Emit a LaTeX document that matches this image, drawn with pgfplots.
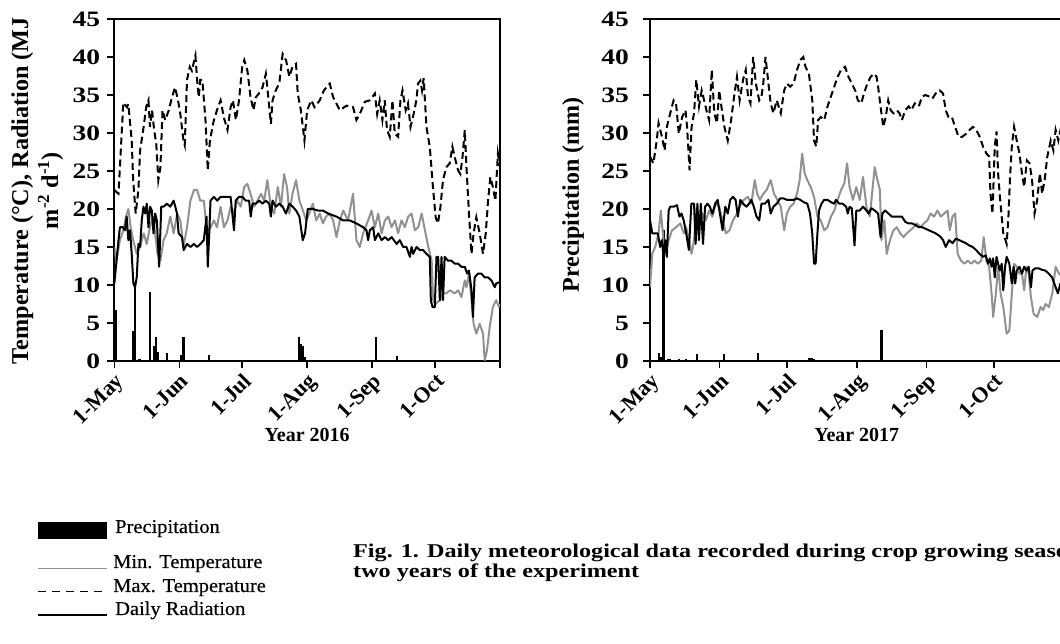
\documentclass[border=0pt]{standalone}
\usepackage{fontspec}
\setmainfont{Liberation Serif}
\newfontfamily\tickfont[FakeStretch=1.25]{Liberation Serif}
\newfontfamily\capfont[FakeStretch=1.24]{Liberation Serif}
\newfontfamily\legfont[FakeStretch=1.05,FakeBold=0.4]{Liberation Serif}
\usepackage{pgfplots}
\pgfplotsset{compat=1.18}
\definecolor{mingray}{RGB}{145,145,145}
\pgfplotsset{
  metbase/.style={
    scale only axis, height=342pt,
    xmin=0, xmax=184, ymin=0, ymax=45,
    ytick={0,5,...,45},
    xtick={0,31,61,92,123,153,184},
    xticklabels={1-May,1-Jun,1-Jul,1-Aug,1-Sep,1-Oct,{}},
    tick align=outside, tick pos=left,
    major tick length=7pt,
    major tick style={black, line width=1.5pt},
    axis line style={black, line width=1.8pt},
    line width=1.8pt,
    /pgf/number format/assume math mode=true,
    xticklabel style={font=\fontsize{22}{22}\selectfont\bfseries, rotate=45, anchor=north east, inner sep=2pt},
    yticklabel style={font=\fontsize{22}{22}\selectfont\tickfont\bfseries},
    every axis x label/.style={at={(rel axis cs:0.5,0)}, anchor=base, yshift=-81pt, font=\fontsize{20}{20}\selectfont\bfseries},
    clip=true,
  },
  prec/.style={ycomb, black, line width=2.2pt, no markers},
  tmin/.style={mingray, line width=2pt, no markers, line join=round},
  tmax/.style={black, line width=2pt, no markers, dash pattern=on 7pt off 4pt},
  rad/.style={black, line width=2pt, no markers, line join=round},
}
\begin{document}
\begin{tikzpicture}[x=1pt,y=1pt]
% ---------------- 2016 ----------------
\begin{axis}[metbase, width=385.7pt, at={(114.3pt,283pt)}, anchor=south west,
  xlabel={Year 2016},
  ylabel={Temperature (°C), Radiation (MJ\\ m\textsuperscript{-2} d\textsuperscript{-1})},
  every axis y label/.style={at={([xshift=-77pt]rel axis cs:0,0.498)}, rotate=90, anchor=center, align=center, font=\fontsize{24.2}{30}\selectfont\bfseries},
  yticklabel style={xshift=-3pt},
]
\addplot[prec] coordinates {(0,7.5)(1,6.7)(9,4)(10,10.2)(12,0.2)(17,9.1)(19,2)(20,3.1)(21,1.2)(25,1)(32,0.8)(33,3.1)(45,0.8)(88,3.1)(89,2.2)(90,2)(91,0.5)(125,3.1)(135,0.7)};
\addplot[tmin] coordinates {(0,15)(1,13.2)(2.7,15.9)(4.3,17.2)(5.6,19)(6.7,20)(7.8,17.6)(9,15.9)(10.7,14.1)(12.3,15)(14,16.8)(15.5,15.4)(17,17.6)(18.4,19)(19.5,16.8)(20.6,14.1)(22,13.2)(23.5,15.9)(25,16.8)(26.7,19)(28.3,16.8)(30,19.4)(31.5,18.5)(33,15)(34.7,17.6)(36.3,21.1)(38,22.5)(39.5,22.5)(41,21.1)(42.7,21.1)(44.3,16.8)(46,17.6)(47.5,18.5)(49,17.6)(50.7,20.3)(52.3,17.6)(54,18.5)(55.5,20.3)(57,19.4)(58.7,21.1)(60.3,20.3)(62,22.9)(63.5,23.3)(65,22)(66.7,20.3)(68.3,21.1)(70,22)(71.5,21.1)(73,23.8)(74.7,20.3)(76.3,19.4)(78,22.9)(79.5,20.3)(81,24.6)(82.4,22.9)(83.5,19.4)(85,22)(86.7,23.8)(88.3,21.1)(90,19.8)(91.5,18.5)(93,19.4)(94.7,20.7)(96.3,18.5)(98,19.4)(99.5,18.1)(101,19)(102.7,19.4)(104.4,18.5)(106,16.3)(107.6,18.5)(109.2,19.8)(111.5,18.5)(113.9,22)(115.5,15.9)(117.1,15)(118.7,16.8)(121.1,18.5)(122.7,19.8)(124.3,17.6)(125.9,19.4)(127.5,16.8)(129.1,18.5)(130.7,19)(132.3,17.6)(133.9,18.5)(135.4,16.8)(137,18.5)(138.6,17.6)(140.2,19)(141.8,19.4)(143.4,17.2)(145,17.6)(146.6,19.4)(148.2,17.2)(149.8,15)(151.4,13.2)(152.1,8)(153.3,7.5)(155.3,8)(156.8,8.9)(158.4,8.9)(160,9.3)(162.4,8.9)(164,9.3)(165.6,8.4)(167.2,10.6)(168,9.7)(169.2,11.5)(170.4,8)(171.4,4.9)(172.7,3.6)(174.3,4.9)(175.9,3.6)(176.7,0.1)(177.8,1.4)(179.1,4.5)(180.6,7.1)(182.2,8)(183.5,7.1)(184,7.5)};
\addplot[tmax] coordinates {(0,22.5)(2,22)(4.3,34)(6,33.4)(6.7,33.8)(8.3,29)(9,23.8)(10.2,19.4)(11.5,22.5)(12.3,27.7)(14,30.8)(15.2,33.4)(16.3,34.3)(17,30.8)(18,33)(19,30.4)(20,28.6)(21,23.8)(22,25.5)(23,33)(24.3,31.7)(26,33)(27.5,34.7)(29,36)(30.4,34.3)(31.5,32.5)(33,29)(33.6,28.4)(34.7,37)(36,38.7)(37,38.2)(38.7,40.2)(39.5,37)(40.3,34.7)(41,37)(42,37)(43.5,31.7)(44.6,25.1)(45.6,29)(47.5,31.7)(49,33)(50.7,34.3)(52.3,32)(54,30.4)(55.5,33.4)(56.6,34.3)(58,31.7)(59.5,34.3)(61,38.7)(62,39.6)(63.5,38.2)(65,34.7)(66.4,33)(67.5,34.7)(69,35.2)(70.7,36)(72.3,37.8)(73,36)(74.7,31.2)(75.5,34.3)(77,35.6)(78.7,36.5)(80.3,40.4)(82,39.5)(83.5,37.4)(85,38.7)(86.7,39.1)(87.5,35.2)(89,33)(90.7,29)(92,33)(94,34.3)(95.5,33.4)(98,34.3)(100,35.6)(102,36.3)(102.8,36.5)(104.4,34.7)(107.6,33)(110.8,33.6)(113.9,33.4)(115.5,31.7)(117.1,32.5)(119.5,34.1)(121.9,34.3)(124.3,35.2)(125.4,32.5)(126.6,34.3)(127.9,31.7)(129,34.3)(130.1,30.4)(131.4,29.5)(132.7,34.3)(133.8,29.9)(135.4,29.5)(136.5,34.3)(137.5,35.6)(139,33)(140.1,33.9)(141.3,30.8)(142.8,32.5)(144.1,34.3)(144.9,36.5)(146,36.9)(146.8,35.6)(147.6,37.2)(148.9,30.8)(150.5,28.2)(152,22.9)(153.3,18.9)(154.4,18.1)(155.6,20.3)(156.8,23.8)(158.4,25.5)(160,26)(161.3,28.2)(162.4,26.8)(164,25.1)(165.1,24.6)(166.1,26.8)(167.2,30.4)(168,25.5)(169.2,19.4)(170.4,14.1)(171.4,16.8)(172.7,18.9)(174.3,16.8)(175.9,14.1)(177.2,16.8)(178.3,21.1)(179.4,24.2)(180.6,22.9)(181.8,21.1)(183,27.3)(184,25.5)};
\addplot[rad] coordinates {(0,10.2)(0.8,12.4)(2,15.9)(2.7,17.6)(4,17.6)(5.1,17.2)(5.9,19)(6.7,15.9)(7.5,17.2)(8.3,14.1)(9.1,10.2)(9.9,9.7)(10.7,11)(11.5,15.4)(12.3,15)(13.1,18.5)(13.9,20.3)(14.7,19.4)(15.5,20.7)(16.3,17.6)(17.1,20.3)(17.9,19.8)(18.7,16.8)(19.5,19.4)(20.3,18.5)(21.4,12.4)(22.4,20.3)(23.5,20.3)(25.1,20.7)(26.7,20.3)(28.3,21.1)(29.1,20.3)(29.9,19.4)(30.7,16.8)(32.3,16.3)(33.1,14.6)(34.7,15.4)(36.3,15)(38,15.4)(39.5,15)(41.1,15.4)(42.7,15.9)(44,19)(44.6,12.4)(45.3,16.8)(45.9,21.1)(47.5,21.6)(49.1,21.1)(50.7,21.6)(52.3,21.6)(54,21.6)(55.5,21.6)(57.1,17.2)(57.9,21.1)(59.5,21.6)(61.1,21.6)(62.7,21.1)(64.3,21.1)(65.1,19)(65.9,20.7)(67.5,20.7)(69.1,21.1)(70.7,20.7)(72.3,21.1)(73.9,20.7)(74.7,19)(75.5,21.1)(77.1,20.3)(78.7,20.7)(80.3,20.3)(81.9,19.4)(83.5,20.7)(85.1,20.3)(86.7,19.8)(88.3,19)(89.9,15.9)(91,16.8)(92.3,20)(94.7,20)(97.1,19.8)(99.5,19.8)(102,19.4)(104,19.2)(106,19)(109.2,18.5)(112.3,18.5)(115.5,18.1)(118.7,17.6)(120.3,17.2)(121.1,15.9)(121.9,17.2)(123.5,17.6)(124.3,15.9)(125.9,16.8)(127.5,15.9)(129.1,16.3)(130.7,15.9)(132.3,16.3)(134.7,15.4)(136.2,15.9)(137.8,15)(139.4,15)(141,13.7)(141.8,15)(142.6,14.1)(144.2,15)(145.7,14.6)(147.3,14.6)(148.9,14.1)(150.5,13.7)(151,8)(151.8,7.1)(152.9,7.1)(153.7,13.7)(154.5,13.7)(155.3,8)(156.1,13.7)(156.8,8)(157.6,13.7)(159.2,13.2)(160.8,13.2)(162.4,12.8)(164,12.8)(165.6,12.4)(167.2,12.4)(168.3,11.5)(169.2,11.9)(170.4,9.3)(171.1,5.8)(171.9,11)(173.5,11.5)(175.1,11.5)(176.7,11)(178.3,11)(179.9,10.6)(181.5,9.7)(182.2,10.2)(184,10.4)};
\end{axis}
% ---------------- 2017 ----------------
\begin{axis}[metbase, width=413.5pt, at={(650pt,283pt)}, anchor=south west,
  xlabel={Year 2017},
  ylabel={Precipitation (mm)},
  every axis y label/.style={at={([xshift=-77pt]rel axis cs:0,0.485)}, rotate=90, anchor=center, font=\fontsize{24}{29}\selectfont\bfseries},
  yticklabel style={xshift=-10pt},
]
\addplot[prec] coordinates {(4,1)(5,0.5)(6,17.2)(8,0.3)(9,0.2)(13,0.2)(16,0.3)(21,0.9)(33,0.9)(48,1.1)(71,0.4)(72,0.4)(73,0.3)(103,4.1)(149,0.1)};
\addplot[tmin] coordinates {(0,9.7)(1,14.1)(2.3,15)(3.8,16.8)(4.8,19.8)(6,15.9)(6.8,14.1)(8.3,15.9)(9.8,17.2)(11.6,17.6)(13.5,18.1)(15,16.8)(16.1,17.6)(17.3,15.9)(18.5,14.1)(19.6,15.9)(20.8,20.3)(21.8,18.5)(23.3,19.4)(24.8,18.5)(26.3,19.8)(27.8,19)(29.3,20.7)(30.8,20.3)(32.3,18.5)(33.8,16.8)(35.4,17.2)(36.9,18.5)(38.7,19.4)(39.9,20.3)(41.7,21.2)(43.6,21.6)(45.1,20.7)(46.6,23.8)(47.7,22)(48.9,21.2)(50.4,22)(51.9,22.5)(53.7,23.8)(55.2,22)(56.7,21.2)(58.2,20.3)(59.7,17.2)(60.9,19.4)(62.4,20.3)(63.9,20.7)(65.4,22)(66.6,23.8)(67.7,27.3)(68.8,24.7)(70,23.8)(71.5,22.9)(73,21.6)(74.5,19)(76,18.5)(77.5,17.2)(79,17.6)(80.5,19)(82,19.8)(83.5,21.2)(85,22.5)(86.5,23.4)(87.7,26)(88.8,22.9)(90.3,21.2)(91.8,22.9)(93.3,21.2)(94.8,24.2)(96.3,20.3)(97.8,19)(98.8,22)(100,25.5)(101.2,23.8)(102.3,22.5)(103,15.9)(104.3,18.5)(105.3,14.1)(106.8,15.9)(108.3,17.2)(109.8,17.6)(111.3,16.8)(112.8,16.3)(114.3,16.8)(115.8,17.2)(117.3,17.6)(118.8,18.1)(120.4,17.6)(121.9,18.1)(123.4,18.5)(124.9,19.4)(126.4,19)(127.9,19.8)(129.4,19)(130.9,19.4)(132.4,19.8)(133.4,17.2)(134.6,19)(135.8,19.4)(136.9,14.1)(138.4,13.2)(139.9,12.8)(141.4,13.2)(142.9,12.8)(144.4,13.2)(145.9,12.8)(147.4,13.2)(148.5,16.3)(149.7,13.2)(150.9,12.4)(152,8.9)(152.7,5.8)(153.9,8.9)(154.9,12.4)(156,8.9)(157.2,7.1)(158.7,3.6)(159.9,4)(161,8.9)(162,12.8)(163.2,12.4)(164.4,11.5)(165.5,11.5)(166.5,9.3)(167.5,12.4)(168.5,11.5)(169.5,8.4)(170.7,6.2)(172.3,5.8)(173.8,7.1)(175,6.7)(176,7.5)(177.5,7.1)(179,8.9)(180.5,12.4)(182,11.5)(184,11)};
\addplot[tmax] coordinates {(0,26.9)(1.5,26)(3,29)(3.8,31.3)(5.3,29.5)(6.5,27.7)(7.5,30.8)(9,32.6)(10.5,34.3)(11.6,33.9)(12.8,29.9)(14.3,32.1)(15.8,33)(16.5,30.8)(17.6,25.1)(18.5,30.8)(19.6,32.6)(20.6,37)(21.8,33.5)(23,35.6)(24.1,34.3)(25.1,33)(26.3,31.7)(27.5,38.3)(28.6,32.6)(29.8,31.3)(30.8,35.6)(32,33)(33.1,30.8)(34.6,29)(36.1,31.7)(37.6,35.2)(38.7,37.4)(39.9,34.3)(41.4,37)(42.6,38.3)(43.6,34.8)(44.7,33.9)(45.9,40)(47.1,36.5)(48.6,34.3)(49.6,34.8)(50.4,36.5)(51.4,40)(52.7,36.5)(53.7,33.9)(54.9,32.6)(56.4,34.3)(58.2,32.6)(59.7,35.6)(60.9,36.5)(62.4,36.1)(63.9,36.5)(65.4,38.3)(66.9,39.6)(68.2,40)(69.2,38.7)(70.7,37.8)(72.2,34.3)(73,29)(74,28.2)(74.8,31.7)(76,32.1)(77.5,31.7)(79,33.5)(80.5,34.8)(82,36.1)(83.5,37.4)(85,38.3)(86.8,38.7)(88.3,37.4)(89.8,36.5)(91.3,35.6)(92.5,34.3)(94,33.9)(95.2,35.2)(96.7,36.5)(98.2,37.4)(99.7,37.8)(100.8,37.4)(101.5,36.1)(102.8,33)(103.8,30.8)(104.9,32.1)(106,34.3)(107.1,33)(108.3,32.6)(109.8,33)(111,32.6)(112.1,31.7)(113.6,33)(115.1,33.5)(116.3,33)(117.8,33.9)(119.6,33.5)(121.1,34.8)(122.6,35)(124.1,34.8)(125.6,34.5)(127.1,35.2)(128.9,35.6)(130.4,35.2)(131.6,33)(132.8,32.1)(134.3,32.1)(135.8,30.8)(137.3,29.5)(138.9,29.5)(140.7,29.9)(142.2,30.4)(143.7,30.8)(145.2,30.4)(146.7,29.5)(148.2,28.2)(149.7,27.3)(150.9,26.9)(151.5,22)(152.4,19.4)(153.4,28.2)(154.2,30.2)(154.9,24.7)(155.7,21.6)(156.5,19)(157.2,16.8)(158.7,15.4)(159.5,19)(160.2,24.2)(161,28.2)(162,30.8)(163.2,29)(164.4,27.3)(165.5,24.7)(166.5,22.9)(167.7,26.4)(168.9,26)(170,23.8)(171.1,19.4)(172.3,21.2)(173.5,24.7)(174.5,22)(175.6,23.8)(176.8,26.9)(178.3,29)(179.5,27.7)(180.5,30.4)(181.7,29)(182.6,30.3)(184,27)};
\addplot[rad] coordinates {(0,18.5)(1,16.8)(2.3,16.8)(3.5,16.8)(4.5,15)(5.3,15.9)(6,13.7)(6.8,15.9)(7.5,13.7)(8.3,19.8)(9,20.3)(10.5,20.3)(12,20.5)(13.1,19)(14,19.4)(15,18.5)(16.1,16.8)(17.3,14.6)(18.4,20.7)(19.6,20.7)(20.3,15.4)(21.1,20.7)(21.8,15.9)(22.6,20.7)(23.6,15.4)(24.5,20.3)(25.6,20.7)(26.6,20.3)(27.8,19.4)(29,20.7)(30.1,21.2)(31.1,19.4)(32.3,17.2)(33.5,20.3)(34.6,19.4)(35.7,21.2)(36.9,21.6)(38.1,21.2)(39.1,19)(40.2,21.2)(41.4,20.7)(42.9,20.3)(44.1,20.7)(45.1,21.2)(46.2,20.3)(47.4,19)(48.6,18.5)(49.6,20.7)(51.1,20.7)(52.7,21.2)(53.7,19.4)(54.9,20.3)(56.4,20.7)(57.9,21.4)(59.4,21.4)(60.9,21.2)(62.4,21.2)(63.9,21.2)(65.4,21.4)(66.9,21.2)(68.4,20.9)(70,20.7)(71.2,19.4)(72.2,16.8)(73,12.8)(73.7,12.8)(74.5,16.8)(75.2,19.8)(76.3,20.7)(77.5,21.2)(79,21.2)(80.5,20.9)(82,20.7)(82.7,21.2)(84.2,20.7)(85.7,20.7)(87.3,20.3)(88,19.4)(88.8,20.3)(89.8,20.1)(91,15.2)(91.8,19.8)(93.3,19.8)(94.8,20.3)(96.3,19.8)(97.3,19.4)(98.5,20.1)(100,19.8)(101.5,19.4)(102.6,16.3)(103.4,19.4)(104.6,19.8)(106.1,19.4)(107.6,19)(109.1,19)(110.6,19)(112.1,19)(113.6,18.3)(115.1,18.1)(116.6,18.1)(118.1,17.9)(119.6,17.6)(121.1,17.6)(122.6,17.4)(124.1,17.2)(125.6,17)(127.1,16.8)(128.6,16.5)(129.4,16.3)(130.4,15.9)(131.6,15)(133.1,15.9)(134.6,15.5)(136.1,16.1)(137.6,15.9)(139.1,15.7)(140.6,15.5)(142.1,15.2)(143.6,15)(145.1,14.6)(146.6,14.1)(148.2,13.7)(149.4,13.9)(150.4,12.8)(151.2,13.5)(152,12.4)(152.7,13.5)(153.4,11)(154.2,13.7)(154.9,12.8)(155.7,11.9)(156.5,12.8)(157.2,9.3)(158,12.4)(158.7,13.7)(159.9,12.8)(161,10.2)(161.8,12.4)(162.5,10.2)(163.2,11.9)(164.4,12.4)(165.5,11.5)(166.5,12.4)(167.5,11.9)(168.5,12.4)(169.5,9.7)(170.2,11.9)(171.4,12.2)(172.9,12.2)(174.4,12)(175.9,11.9)(177.4,11.5)(178.9,11)(180.5,9.7)(181.5,8.9)(182.6,10.2)(184,10)};
\end{axis}
% ---------------- legend ----------------
\fill[black] (37.7,104.7) rectangle (106.7,122.3);
\draw[mingray, line width=1.2pt] (38,75.7) -- (107,75.7);
\draw[black, line width=1.3pt, dash pattern=on 8pt off 6pt] (38,52.3) -- (107,52.3);
\draw[black, line width=2pt] (38,29) -- (107,29);
\begin{scope}[every node/.style={anchor=base west, inner sep=0pt, font=\fontsize{19.5}{19.5}\selectfont\legfont}]
\node at (115,111) {Precipitation};
\node at (113,76) {Min. Temperature};
\node at (113,52) {Max. Temperature};
\node at (115,29) {Daily Radiation};
\end{scope}
% ---------------- caption ----------------
\node[anchor=base west, inner sep=0pt, font=\fontsize{19.5}{19.5}\selectfont\capfont\bfseries] at (353,86) {Fig. 1. Daily meteorological data recorded during crop growing seasons of the};
\node[anchor=base west, inner sep=0pt, font=\fontsize{19.5}{19.5}\selectfont\capfont\bfseries] at (353,66) {two years of the experiment};
\pgfresetboundingbox
\useasboundingbox (0,0) rectangle (1060,644);
\end{tikzpicture}
\end{document}
